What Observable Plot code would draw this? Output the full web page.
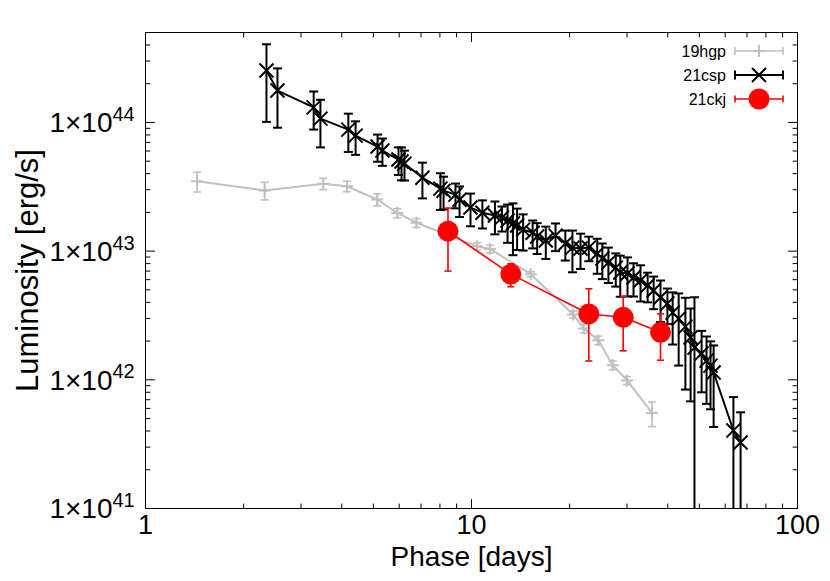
<!DOCTYPE html>
<html>
<head>
<meta charset="utf-8">
<script src="https://cdn.jsdelivr.net/npm/d3@7"></script>
<script src="https://cdn.jsdelivr.net/npm/@observablehq/plot@0.6"></script>
<style>
  html, body { margin: 0; padding: 0; background: #fff; }
  #chart svg { display: block; }
</style>
</head>
<body>
<div id="chart"></div>
<script>
// ---------------- data ----------------
const seriesNames = ["19hgp", "21csp", "21ckj"];

const hgpPhase = [1.44, 2.32, 3.51, 4.15, 5.14, 5.92, 6.78, 10.4, 11.4, 15.2, 20.5, 22.1, 24.5, 27.1, 30.0, 35.8];
const hgpLum   = [3.49e43, 2.96e43, 3.34e43, 3.19e43, 2.52e43, 1.98e43, 1.66e43, 1.09e43, 1.04e43, 6.62e42, 3.22e42, 2.51e42, 2.03e42, 1.30e42, 9.9e41, 5.53e41];
const hgpErr   = [0.61e43, 0.46e43, 0.34e43, 0.30e43, 0.27e43, 0.16e43, 0.13e43, 0.07e43, 0.07e43, 0.3e42, 0.2e42, 0.2e42, 0.15e42, 0.1e42, 0.07e42, 1.2e41];

const cspPhase = [2.35, 2.54, 3.28, 3.44, 4.19, 4.41, 5.15, 5.33, 5.97, 6.10, 6.23, 7.07, 8.03, 8.21, 8.93, 9.19, 9.93,
                  10.8, 11.8, 12.4, 12.9, 13.4, 13.8, 14.4, 15.4, 15.9, 16.9, 18.1, 19.4, 20.4, 21.6, 22.9, 24.3, 25.2,
                  26.3, 27.7, 28.6, 30.1, 31.4, 33.0, 34.7, 36.2, 38.0, 39.9, 41.4, 43.2, 45.3, 47.0, 48.3, 50.8, 52.6,
                  54.1, 55.3, 63.6, 66.9];
const cspLum   = [2.53e44, 1.77e44, 1.31e44, 1.07e44, 8.8e43, 7.9e43, 6.5e43, 6.05e43, 5.15e43, 4.97e43, 4.79e43, 3.72e43, 3.06e43, 2.95e43, 2.75e43, 2.51e43, 2.18e43,
                  1.99e43, 1.89e43, 1.82e43, 1.73e43, 1.64e43, 1.58e43, 1.47e43, 1.39e43, 1.30e43, 1.21e43, 1.32e43, 1.145e43, 1.065e43, 1.047e43, 1.065e43, 9.57e42, 8.76e42,
                  8.15e42, 7.45e42, 6.82e42, 6.69e42, 6.24e42, 5.91e42, 5.40e42, 4.94e42, 4.36e42, 3.92e42, 3.33e42, 2.99e42, 2.59e42, 2.13e42, 1.78e42, 1.60e42, 1.41e42,
                  1.29e42, 1.14e42, 4.04e41, 3.26e41];
const cspErr   = [1.52e44, 0.86e44, 0.43e44, 0.43e44, 2.9e43, 2.3e43, 1.55e43, 1.45e43, 1.25e43, 1.42e43, 1.25e43, 1.15e43, 0.97e43, 0.84e43, 0.6e43, 0.67e43, 0.62e43,
                  0.49e43, 0.54e43, 0.40e43, 0.57e43, 0.71e43, 0.56e43, 0.46e43, 0.34e43, 0.35e43, 0.34e43, 0.32e43, 0.30e43, 0.38e43, 0.32e43, 0.23e43, 2.9e42, 2.7e42,
                  2.5e42, 2.15e42, 2.4e42, 2.25e42, 1.8e42, 1.85e42, 1.4e42, 1.4e42, 1.55e42, 1.2e42, 1.45e42, 1.7e42, 1.75e42, 1.45e42, 2.6e42, 0.8e42, 0.76e42,
                  0.7e42, 0.71e42, 3.3e41, 2.33e41];

const ckjPhase = [8.47, 13.2, 22.9, 29.2, 38.0];
const ckjLum   = [1.43e43, 6.63e42, 3.25e42, 3.06e42, 2.34e42];
const ckjErr   = [0.73e43, 1.34e42, 1.85e42, 1.38e42, 0.92e42];

const xDomain = [1, 100];
const yDomain = [1e41, 5e44];
const xMajor = [1, 10, 100];
const xMinor = [2, 3, 4, 5, 6, 7, 8, 9, 20, 30, 40, 50, 60, 70, 80, 90];
const yMajor = [1e41, 1e42, 1e43, 1e44];
const yMinor = [2e41, 3e41, 4e41, 5e41, 6e41, 7e41, 8e41, 9e41,
                2e42, 3e42, 4e42, 5e42, 6e42, 7e42, 8e42, 9e42,
                2e43, 3e43, 4e43, 5e43, 6e43, 7e43, 8e43, 9e43,
                2e44, 3e44, 4e44, 5e44];
const xTitle = "Phase [days]";
const yTitle = "Luminosity [erg/s]";

// ---------------- helpers ----------------
function rows(phase, lum, err) {
  return phase.map((p, i) => ({x: p, y: lum[i], lo: lum[i] - err[i], hi: lum[i] + err[i]}));
}
const hgp = rows(hgpPhase, hgpLum, hgpErr);
const csp = rows(cspPhase, cspLum, cspErr);
const ckj = rows(ckjPhase, ckjLum, ckjErr);

const rad = s => Math.sqrt(s / Math.PI);
const capSym   = {draw(c, s) { const r = rad(s); c.moveTo(-r, 0); c.lineTo(r, 0); }};
const plusSym  = {draw(c, s) { const r = rad(s); c.moveTo(-r, 0); c.lineTo(r, 0); c.moveTo(0, -r); c.lineTo(0, r); }};
const timesSym = {draw(c, s) { const r = rad(s); c.moveTo(-r, -r); c.lineTo(r, r); c.moveTo(-r, r); c.lineTo(r, -r); }};
const tickShape = {draw(c, l) { c.moveTo(0, 0); c.lineTo(0, -l); }};

const styles = [
  {color: "#c0c0c0", lw: 2, ew: 1.6, cap: 4, sym: plusSym, size: 6, fill: "none"},
  {color: "#000000", lw: 2, ew: 2, cap: 4.5, sym: timesSym, size: 7, fill: "none"},
  {color: "#ff0000", lw: 1.6, ew: 1.6, cap: 3.5, sym: "circle", size: 10.5, fill: "#ff0000"}
];

function seriesMarks(data, st) {
  const marks = [
    Plot.line(data, {x: "x", y: "y", stroke: st.color, strokeWidth: st.lw, clip: true}),
    Plot.ruleX(data, {x: "x", y1: d => d.lo > 0 ? d.lo : yDomain[0] / 10, y2: "hi", stroke: st.color, strokeWidth: st.ew, clip: true}),
    Plot.dot(data.filter(d => d.lo > yDomain[0]), {x: "x", y: "lo", symbol: capSym, r: st.cap, stroke: st.color, strokeWidth: st.ew, fill: "none"}),
    Plot.dot(data, {x: "x", y: "hi", symbol: capSym, r: st.cap, stroke: st.color, strokeWidth: st.ew, fill: "none"})
  ];
  if (st.fill === "none") {
    marks.push(Plot.dot(data, {x: "x", y: "y", symbol: st.sym, r: st.size, stroke: st.color, strokeWidth: st.lw, fill: "none"}));
  } else {
    marks.push(Plot.dot(data, {x: "x", y: "y", symbol: st.sym, r: st.size, fill: st.fill, stroke: "none"}));
  }
  return marks;
}

function tickMarks(vals, axis, len) {
  const common = {shape: tickShape, length: len, anchor: "start", stroke: "black", strokeWidth: 1};
  if (axis === "x") {
    return [
      Plot.vector(vals, {x: d => d, frameAnchor: "bottom", rotate: 0, ...common}),
      Plot.vector(vals, {x: d => d, frameAnchor: "top", rotate: 180, ...common})
    ];
  }
  return [
    Plot.vector(vals, {y: d => d, frameAnchor: "left", rotate: 90, ...common}),
    Plot.vector(vals, {y: d => d, frameAnchor: "right", rotate: -90, ...common})
  ];
}

const font = "Liberation Sans, Arial, Helvetica, sans-serif";

const svg = Plot.plot({
  width: 830,
  height: 581,
  marginLeft: 145,
  marginRight: 33,
  marginTop: 32,
  marginBottom: 73,
  style: {fontFamily: font, background: "#fff", color: "#000"},
  x: {type: "log", domain: xDomain, axis: null},
  y: {type: "log", domain: yDomain, axis: null},
  marks: [
    ...seriesMarks(hgp, styles[0]),
    ...seriesMarks(csp, styles[1]),
    ...seriesMarks(ckj, styles[2]),
    ...tickMarks(xMajor, "x", 9),
    ...tickMarks(xMinor, "x", 4.5),
    ...tickMarks(yMajor, "y", 9),
    ...tickMarks(yMinor, "y", 4.5),
    Plot.frame({stroke: "black", strokeWidth: 1}),
    Plot.text(xMajor, {x: d => d, frameAnchor: "bottom", dy: 6, lineAnchor: "top", text: d => String(d), fontSize: 27, fill: "black"}),
    Plot.text(yMajor, {y: d => d, frameAnchor: "left", dx: -33, dy: 1, textAnchor: "end", lineAnchor: "middle", text: () => "1×10", fontSize: 28, fill: "black"}),
    Plot.text(yMajor, {y: d => d, frameAnchor: "left", dx: -33, dy: -8, textAnchor: "start", lineAnchor: "middle", text: d => String(Math.round(Math.log10(d))), fontSize: 20, fill: "black"}),
    Plot.text([xTitle], {frameAnchor: "bottom", dy: 49, lineAnchor: "middle", text: d => d, fontSize: 28, fill: "black"}),
    Plot.text([yTitle], {frameAnchor: "left", dx: -117, rotate: -90, textAnchor: "middle", lineAnchor: "middle", text: d => d, fontSize: 31, fill: "black"})
  ]
});

// ---------------- legend ----------------
const lg = d3.select(svg).append("g").attr("font-family", font);
const rowY = [51, 75, 99];
const lx1 = 735, lx2 = 783, lxm = 759;
seriesNames.forEach((name, i) => {
  const st = styles[i];
  const y = rowY[i];
  lg.append("text").attr("x", 726).attr("y", y).attr("dy", "0.35em").attr("text-anchor", "end")
    .attr("font-size", 16).attr("fill", "black").text(name);
  const g = lg.append("g").attr("stroke", st.color).attr("stroke-width", st.ew).attr("fill", "none");
  g.append("line").attr("x1", lx1).attr("x2", lx2).attr("y1", y).attr("y2", y);
  g.append("line").attr("x1", lx1).attr("x2", lx1).attr("y1", y - st.cap).attr("y2", y + st.cap);
  g.append("line").attr("x1", lx2).attr("x2", lx2).attr("y1", y - st.cap).attr("y2", y + st.cap);
  if (i === 0) {
    g.append("path").attr("stroke-width", st.lw).attr("d", `M${lxm - 6},${y}H${lxm + 6}M${lxm},${y - 6}V${y + 6}`);
  } else if (i === 1) {
    g.append("path").attr("stroke-width", st.lw).attr("d", `M${lxm - 7},${y - 7}L${lxm + 7},${y + 7}M${lxm - 7},${y + 7}L${lxm + 7},${y - 7}`);
  } else {
    lg.append("circle").attr("cx", lxm).attr("cy", y).attr("r", 10.5).attr("fill", st.fill);
  }
});

document.getElementById("chart").appendChild(svg);
</script>
</body>
</html>
